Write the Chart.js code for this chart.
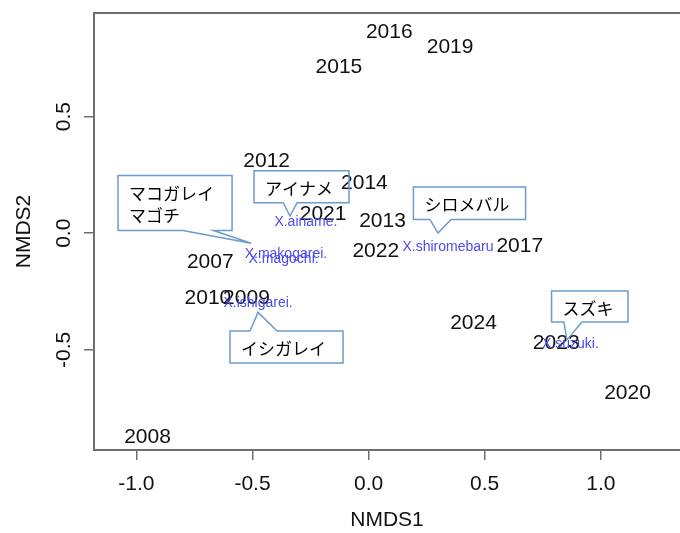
<!DOCTYPE html>
<html>
<head>
<meta charset="utf-8">
<script src="https://cdn.jsdelivr.net/npm/chart.js@4.4.1/dist/chart.umd.min.js"></script>
<style>
  body { margin: 0; background: #fff; }
  canvas { display: block; }
</style>
</head>
<body>
<canvas id="nmds" width="680" height="533"></canvas>
<script>
// site scores (years)
const years = ["2007", "2008", "2009", "2010", "2012", "2013", "2014", "2015",
  "2016", "2017", "2019", "2020", "2021", "2022", "2023", "2024"];
const siteX = [-0.682, -0.952, -0.526, -0.692, -0.439, 0.060, -0.018, -0.128,
  0.089, 0.651, 0.351, 1.115, -0.196, 0.031, 0.808, 0.452];
const siteY = [-0.119, -0.869, -0.272, -0.272, 0.317, 0.060, 0.221, 0.717,
  0.870, -0.047, 0.803, -0.679, 0.086, -0.069, -0.465, -0.379];

// species scores
const species = ["X.ainame.", "X.makogarei.", "X.magochi.", "X.shiromebaru", "X.ishigarei.", "X.suzuki."];
const specX = [-0.270, -0.356, -0.366, 0.342, -0.476, 0.869];
const specY = [0.050, -0.086, -0.107, -0.054, -0.296, -0.469];

// axis ticks
const xTicks = [-1.0, -0.5, 0.0, 0.5, 1.0];
const yTicks = [-0.5, 0.0, 0.5];

// callout notes (Japanese names), box corners and tail in data units
const notes = [
  { lines: ["マコガレイ", "マゴチ"], x0: -1.079, x1: -0.588, top: 0.247, bottom: 0.012, side: "bottom", b0: -0.800, b1: -0.668, tipX: -0.506, tipY: -0.043 },
  { lines: ["アイナメ"], x0: -0.4935, x1: -0.0844, top: 0.268, bottom: 0.131, side: "bottom", b0: -0.368, b1: -0.308, tipX: -0.3385, tipY: 0.074 },
  { lines: ["イシガレイ"], x0: -0.597, x1: -0.110, top: -0.419, bottom: -0.556, side: "top", b0: -0.511, b1: -0.394, tipX: -0.476, tipY: -0.339 },
  { lines: ["シロメバル"], x0: 0.193, x1: 0.676, top: 0.198, bottom: 0.059, side: "bottom", b0: 0.264, b1: 0.355, tipX: 0.299, tipY: 0.001 },
  { lines: ["スズキ"], x0: 0.788, x1: 1.117, top: -0.247, bottom: -0.380, side: "bottom", b0: 0.841, b1: 0.919, tipX: 0.854, tipY: -0.457 },
];

const FONT = "'Liberation Sans', Arial, sans-serif";
const JP_FONT = "'Noto Sans CJK JP', sans-serif";
const AXIS_GREY = "#6e6e6e";
const SPEC_BLUE = "#4a4af2";
const NOTE_LINE = "#6a9bd1";

function notePath(ctx, n, x, y) {
  let l = x.getPixelForValue(n.x0), r = x.getPixelForValue(n.x1);
  let t = y.getPixelForValue(n.top), b = y.getPixelForValue(n.bottom);
  let p0 = x.getPixelForValue(n.b0), p1 = x.getPixelForValue(n.b1);
  let tx = x.getPixelForValue(n.tipX), ty = y.getPixelForValue(n.tipY);
  ctx.beginPath();
  ctx.moveTo(l, t);
  if (n.side === "top") {
    ctx.lineTo(p0, t);
    ctx.lineTo(tx, ty);
    ctx.lineTo(p1, t);
  }
  ctx.lineTo(r, t);
  ctx.lineTo(r, b);
  if (n.side === "bottom") {
    ctx.lineTo(p1, b);
    ctx.lineTo(tx, ty);
    ctx.lineTo(p0, b);
  }
  ctx.lineTo(l, b);
  ctx.closePath();
  return { l, t };
}

const nmdsPlugin = {
  id: "nmdsLabels",
  beforeDraw(chart) {
    let ctx = chart.ctx;
    ctx.save();
    ctx.fillStyle = "#fff";
    ctx.fillRect(0, 0, chart.width, chart.height);
    ctx.restore();
  },
  afterDraw(chart) {
    let ctx = chart.ctx;
    let a = chart.chartArea;
    let x = chart.scales.x;
    let y = chart.scales.y;
    ctx.save();

    // plot box (right side runs off the picture)
    ctx.strokeStyle = AXIS_GREY;
    ctx.lineWidth = 2;
    ctx.beginPath();
    ctx.moveTo(a.right + 10, a.top);
    ctx.lineTo(a.left, a.top);
    ctx.lineTo(a.left, a.bottom);
    ctx.lineTo(a.right + 10, a.bottom);
    ctx.stroke();

    // rotated y tick labels
    ctx.fillStyle = "#111";
    ctx.font = "21px " + FONT;
    ctx.textAlign = "center";
    ctx.textBaseline = "middle";
    y.ticks.forEach((t) => {
      ctx.save();
      ctx.translate(64, y.getPixelForValue(t.value));
      ctx.rotate(-Math.PI / 2);
      ctx.fillText(t.value.toFixed(1), 0, 0);
      ctx.restore();
    });

    // note fills go under the labels
    notes.forEach((n) => {
      notePath(ctx, n, x, y);
      ctx.fillStyle = "#fff";
      ctx.fill();
    });

    // year labels (nudged so the digits sit centred on the point)
    let sites = chart.getDatasetMeta(0).data;
    ctx.fillStyle = "#111";
    ctx.font = "21px " + FONT;
    sites.forEach((pt, i) => ctx.fillText(years[i], pt.x, pt.y + 1.5));

    // species labels
    let specs = chart.getDatasetMeta(1).data;
    ctx.fillStyle = SPEC_BLUE;
    ctx.font = "14px " + FONT;
    specs.forEach((pt, i) => ctx.fillText(species[i], pt.x, pt.y + 1));

    // note outlines and text
    notes.forEach((n) => {
      let o = notePath(ctx, n, x, y);
      ctx.strokeStyle = NOTE_LINE;
      ctx.lineWidth = 1.5;
      ctx.stroke();
      ctx.fillStyle = "#000";
      ctx.font = "17px " + JP_FONT;
      ctx.textAlign = "left";
      ctx.textBaseline = "middle";
      n.lines.forEach((s, k) => ctx.fillText(s, o.l + 11, o.t + 17.5 + k * 22));
    });

    ctx.restore();
  },
};

new Chart(document.getElementById("nmds"), {
  type: "scatter",
  data: {
    datasets: [
      { label: "sites", data: years.map((_, i) => ({ x: siteX[i], y: siteY[i] })), pointRadius: 0 },
      { label: "species", data: species.map((_, i) => ({ x: specX[i], y: specY[i] })), pointRadius: 0 },
    ],
  },
  options: {
    responsive: false,
    animation: false,
    events: [],
    layout: { padding: { top: 13, right: 0, bottom: 0, left: 0 } },
    plugins: { legend: { display: false }, tooltip: { enabled: false } },
    scales: {
      x: {
        type: "linear",
        bounds: "data",
        min: -1.1826,
        max: 1.3411,
        afterFit: (s) => { s.height = 83; },
        afterBuildTicks: (s) => { s.ticks = xTicks.map((v) => ({ value: v })); },
        border: { display: false },
        grid: { drawOnChartArea: false, tickLength: 10, color: AXIS_GREY, lineWidth: 1.5 },
        ticks: {
          autoSkip: false,
          maxRotation: 0,
          padding: 12,
          color: "#111",
          font: { family: FONT, size: 21 },
          callback: (v) => Number(v).toFixed(1),
        },
        title: { display: true, text: "NMDS1", color: "#111", font: { family: FONT, size: 21 }, padding: 0 },
      },
      y: {
        type: "linear",
        bounds: "data",
        min: -0.929,
        max: 0.944,
        afterFit: (s) => { s.width = 94; s.paddingTop = 0; s.paddingBottom = 0; },
        afterBuildTicks: (s) => { s.ticks = yTicks.map((v) => ({ value: v })); },
        border: { display: false },
        grid: { drawOnChartArea: false, tickLength: 10, color: AXIS_GREY, lineWidth: 1.5 },
        ticks: {
          autoSkip: false,
          padding: 0,
          color: "rgba(0,0,0,0)",
          font: { family: FONT, size: 2 },
          callback: (v) => Number(v).toFixed(1),
        },
        title: { display: true, text: "NMDS2", color: "#111", font: { family: FONT, size: 21 }, padding: { top: 12, bottom: 0 } },
      },
    },
  },
  plugins: [nmdsPlugin],
});
</script>
</body>
</html>
